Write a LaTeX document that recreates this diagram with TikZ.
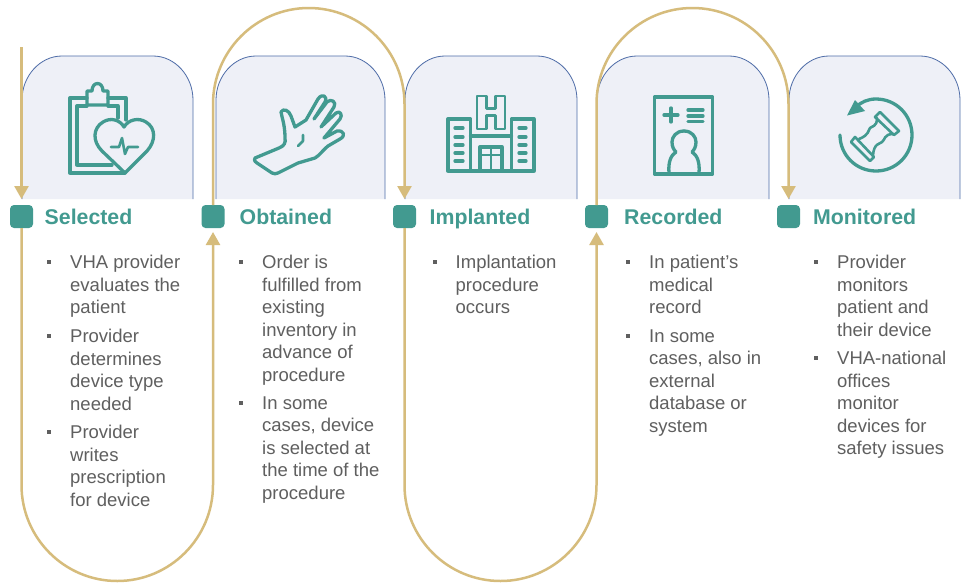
\documentclass[tikz,border=0pt]{standalone}
\usepackage{fontspec}
\setmainfont{Liberation Sans}
\usetikzlibrary{arrows.meta}
\definecolor{teal1}{HTML}{429A90}
\definecolor{gold1}{HTML}{D6BC7C}
\definecolor{cardfill}{HTML}{EEF0F7}
\definecolor{cardline}{HTML}{4F6DA8}
\definecolor{body1}{HTML}{5F5F5F}
\tikzset{
  x=1pt,y=-1pt,
  card/.style={fill=cardfill,draw=none},
  cardedge/.style={draw=cardline,line width=0.8pt},
  marker/.style={fill=teal1,draw=none,rounded corners=4pt,minimum size=23pt,inner sep=0pt,outer sep=0pt},
  head/.style={text=teal1,font=\fontsize{21.3}{24}\selectfont\bfseries,anchor=base west,inner sep=0pt},
  flowtip/.style={draw=gold1,line width=2.5pt,-{Triangle[length=13pt,width=14pt,fill=gold1]}},
  bodytext/.style={text=body1,font=\fontsize{18.5}{22.5}\selectfont,align=left,anchor=north west,inner sep=0pt},
  bul/.style={fill=body1,draw=none,minimum size=4pt,inner sep=0pt},
  ico/.style={draw=teal1,line width=3.3pt,line join=round,line cap=round,fill=none},
  icofine/.style={draw=teal1,line width=2.6pt,line join=round,line cap=round,fill=none},
}
% card: left, right
\newcommand{\mycard}[2]{%
  \fill[card] (#1,199) -- (#1,100) .. controls (#1,76) and (#1+18,56) .. (#1+40,56) -- (#2-40,56) .. controls (#2-18,56) and (#2,76) .. (#2,100) -- (#2,199) -- cycle;
  \draw[cardedge] (#1,199) -- (#1,100) .. controls (#1,76) and (#1+18,56) .. (#1+40,56) -- (#2-40,56) .. controls (#2-18,56) and (#2,76) .. (#2,100) -- (#2,199);
}
\begin{document}
\begin{tikzpicture}
\useasboundingbox (0,0) rectangle (964,582);
\fill[white] (0,0) rectangle (964,582);
\mycard{22}{193}
\mycard{216}{385}
\mycard{405}{577}
\mycard{597}{769}
\mycard{789}{960}

% markers
\node[marker] (m1) at (21.5,216.5) {};
\node[marker] (m2) at (213,216.5) {};
\node[marker] (m3) at (404.5,216.5) {};
\node[marker] (m4) at (596.5,216.5) {};
\node[marker] (m5) at (788.5,216.5) {};
\coordinate (start) at (21.5,47);

% connectors
\draw[flowtip,shorten >=6pt] (start) -- (m1.north);
\draw[flowtip,shorten >=4pt] (m1.south) -- (21.5,485) .. controls (21.5,538) and (64.5,581) .. (117.25,581) .. controls (170,581) and (213,538) .. (213,485) -- (m2.south);
\draw[flowtip,shorten >=6pt] (m2.north) -- (213,104) .. controls (213,51) and (256,8) .. (308.75,8) .. controls (361.5,8) and (404.5,51) .. (404.5,104) -- (m3.north);
\draw[flowtip,shorten >=4pt] (m3.south) -- (404.5,485) .. controls (404.5,538) and (447.5,581) .. (500.5,581) .. controls (553.5,581) and (596.5,538) .. (596.5,485) -- (m4.south);
\draw[flowtip,shorten >=6pt] (m4.north) -- (596.5,104) .. controls (596.5,51) and (639.5,8) .. (692.5,8) .. controls (745.5,8) and (788.5,51) .. (788.5,104) -- (m5.north);

% headings
\node[head] (h1) at (44.5,224) {Selected};
\node[head] (h2) at (239.5,224) {Obtained};
\node[head] (h3) at (429.5,224) {Implanted};
\node[head] (h4) at (624,224) {Recorded};
\node[head] (h5) at (813,224) {Monitored};

% body text
\node[bul] (b11) at (49,262) {};
\node[bodytext] (t11) at (70,255) {VHA provider\\evaluates the\\patient};
\node[bul] (b12) at (49,336) {};
\node[bodytext] (t12) at (70,329) {Provider\\determines\\device type\\needed};
\node[bul] (b13) at (49,432) {};
\node[bodytext] (t13) at (70,425) {Provider\\writes\\prescription\\for device};

\node[bul] (b21) at (241,262) {};
\node[bodytext] (t21) at (262,255) {Order is\\fulfilled from\\existing\\inventory in\\advance of\\procedure};
\node[bul] (b22) at (241,403) {};
\node[bodytext] (t22) at (262,396.5) {In some\\cases, device\\is selected at\\the time of the\\procedure};

\node[bul] (b31) at (435,262) {};
\node[bodytext] (t31) at (455.5,255) {Implantation\\procedure\\occurs};

\node[bul] (b41) at (628,262) {};
\node[bodytext] (t41) at (649,255) {In patient’s\\medical\\record};
\node[bul] (b42) at (628,336) {};
\node[bodytext] (t42) at (649,329.5) {In some\\cases, also in\\external\\database or\\system};

\node[bul] (b51) at (816,262) {};
\node[bodytext] (t51) at (837,255) {Provider\\monitors\\patient and\\their device};
\node[bul] (b52) at (816,358) {};
\node[bodytext] (t52) at (837,351) {VHA-national\\offices\\monitor\\devices for\\safety issues};

% icon: clipboard + heart
\draw[ico] (126,120) -- (126,98) -- (108,98) (87,98) -- (70,98) -- (70,173) -- (125,173);
\draw[ico] (118,118) -- (118,106) -- (108,106) (87,106) -- (77,106) -- (77,165) -- (112,165);
\draw[ico] (87,105) -- (87,91) -- (92,91) .. controls (92,81) and (103,81) .. (103,91) -- (108,91) -- (108,105) -- cycle;
\draw[ico] (125,173) -- (102,151) .. controls (92,141) and (93,128) .. (103,122) .. controls (111,117) and (120,120) .. (124,127) .. controls (128,120) and (138,117) .. (146,122) .. controls (156,128) and (156,141) .. (147,151) -- cycle;
\draw[icofine] (111,147) -- (119,147) -- (122,138) -- (125,154) -- (128,147) -- (138,147);

% icon: hand
\draw[ico] (255,158) -- (279,148) .. controls (284,146) and (286,143) .. (285,138) .. controls (285,125) and (282,118) .. (281,112) .. controls (283,108) and (289,110) .. (291,116) -- (295,127) -- (306,120) -- (318,99) .. controls (322,93) and (328,96) .. (325,102) -- (314,119) -- (327,102) .. controls (331,98) and (337,102) .. (334,107) -- (321,127) -- (336,113) .. controls (340,110) and (343,115) .. (340,119) -- (324,138) -- (337,131) .. controls (344,130) and (346,136) .. (340,139) -- (328,146) .. controls (322,151) and (320,155) .. (315,158) -- (298,163) -- (278,173) .. controls (276,174) and (274,174) .. (272,173) -- (257,163) .. controls (254,161) and (254,159) .. (255,158) -- cycle;
\draw[icofine] (303,135) -- (303,141) -- (298,146);

% icon: hospital
\draw[ico] (448,119) rectangle (470.5,171);
\draw[ico] (511.5,119) rectangle (534,171);
\draw[ico] (470.5,171) -- (511.5,171);
\draw[ico] (470.5,136) -- (511.5,136);
\draw[icofine] (477,129) -- (477,96) -- (486.5,96) -- (486.5,108.5) -- (495.5,108.5) -- (495.5,96) -- (505,96) -- (505,129) -- (495.5,129) -- (495.5,115.5) -- (486.5,115.5) -- (486.5,129) -- cycle;
\draw[ico] (480,171) -- (480,147) -- (502,147) -- (502,171);
\draw[icofine] (480,155) -- (502,155) (491,147) -- (491,171);
\foreach \yy in {128,137,145,153,161} {
  \draw[ico] (455,\yy) -- (463,\yy);
  \draw[ico] (519,\yy) -- (526,\yy);
}

% icon: record
\draw[ico] (654.5,97) rectangle (712.5,174);
\draw[ico] (664,115) -- (678,115) (671,108) -- (671,122);
\draw[ico] (688,110) -- (703,110) (688,116) -- (703,116) (688,121.5) -- (703,121.5);
\draw[ico] (684,131) .. controls (676,131) and (672,137) .. (672,142) .. controls (672,147) and (674,150) .. (676,152) .. controls (671,155) and (668,162) .. (669,173);
\draw[ico] (684,131) .. controls (692,131) and (696,137) .. (696,142) .. controls (696,147) and (694,150) .. (692,152) .. controls (697,155) and (700,162) .. (699,173);

% icon: hourglass with arrow
\draw[ico] (840,135) .. controls (840,155) and (856,171) .. (876,171) .. controls (896,171) and (912,155) .. (912,135) .. controls (912,115) and (896,99) .. (876,99) .. controls (868,99) and (861,102) .. (856,107);
\fill[teal1] (855,100) -- (847,115.5) -- (865,111) -- cycle;
\draw[icofine] (880,112) -- (899,131) -- (894,135) -- (875,117) -- cycle;
\draw[icofine] (855,137) -- (874,157) -- (870,161) -- (851,142) -- cycle;
\draw[icofine] (877,118) .. controls (877,127) and (872,126) .. (870,128) .. controls (868,131) and (869,135) .. (859,139);
\draw[icofine] (893,134) .. controls (884,134) and (885,140) .. (882,142) .. controls (880,144) and (874,143) .. (873,155);
\end{tikzpicture}
\end{document}
